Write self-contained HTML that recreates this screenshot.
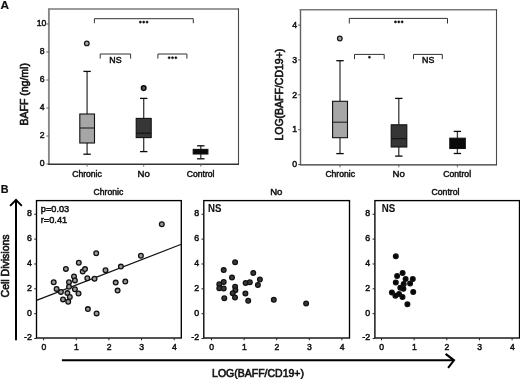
<!DOCTYPE html>
<html><head><meta charset="utf-8"><title>Figure</title>
<style>
html,body{margin:0;padding:0;background:#fff;}
body{width:520px;height:379px;overflow:hidden;}
svg{display:block;font-family:"Liberation Sans", sans-serif;filter:grayscale(1);}
</style></head>
<body>
<svg width="520" height="379" viewBox="0 0 520 379">
<rect width="520" height="379" fill="#fff"/>
<text x="0.5" y="8.5" font-size="11.8" text-anchor="start" font-weight="bold" fill="#111" stroke="#111" stroke-width="0.2">A</text>
<text x="0.8" y="193.2" font-size="10.8" text-anchor="start" font-weight="bold" fill="#111" stroke="#111" stroke-width="0.2">B</text>
<line x1="48.9" y1="9.0" x2="48.9" y2="164.2" stroke="#878787" stroke-width="1.9"/>
<line x1="48.0" y1="9.0" x2="238.5" y2="9.0" stroke="#7a7a7a" stroke-width="1.5"/>
<line x1="238.5" y1="8.3" x2="238.5" y2="164.2" stroke="#4a4a4a" stroke-width="1.1"/>
<line x1="48.0" y1="164.2" x2="239.0" y2="164.2" stroke="#333" stroke-width="1.4"/>
<line x1="46.3" y1="164.0" x2="48.9" y2="164.0" stroke="#555" stroke-width="0.9"/>
<text x="44.7" y="165.8" font-size="8.7" text-anchor="end" font-weight="normal" fill="#111" stroke="#111" stroke-width="0.48">0</text>
<line x1="46.3" y1="136.0" x2="48.9" y2="136.0" stroke="#555" stroke-width="0.9"/>
<text x="44.7" y="137.8" font-size="8.7" text-anchor="end" font-weight="normal" fill="#111" stroke="#111" stroke-width="0.48">2</text>
<line x1="46.3" y1="108.0" x2="48.9" y2="108.0" stroke="#555" stroke-width="0.9"/>
<text x="44.7" y="109.8" font-size="8.7" text-anchor="end" font-weight="normal" fill="#111" stroke="#111" stroke-width="0.48">4</text>
<line x1="46.3" y1="80.0" x2="48.9" y2="80.0" stroke="#555" stroke-width="0.9"/>
<text x="44.7" y="81.8" font-size="8.7" text-anchor="end" font-weight="normal" fill="#111" stroke="#111" stroke-width="0.48">6</text>
<line x1="46.3" y1="52.0" x2="48.9" y2="52.0" stroke="#555" stroke-width="0.9"/>
<text x="44.7" y="53.8" font-size="8.7" text-anchor="end" font-weight="normal" fill="#111" stroke="#111" stroke-width="0.48">8</text>
<line x1="46.3" y1="24.0" x2="48.9" y2="24.0" stroke="#555" stroke-width="0.9"/>
<text x="46.300000000000004" y="25.8" font-size="8.7" text-anchor="end" font-weight="normal" fill="#111" stroke="#111" stroke-width="0.48">10</text>
<text x="27.9" y="94.3" font-size="10.5" text-anchor="middle" font-weight="normal" fill="#111" stroke="#111" stroke-width="0.6" transform="rotate(-90 27.9 94.3)">BAFF (ng/ml)</text>
<line x1="87.1" y1="164.2" x2="87.1" y2="166.6" stroke="#555" stroke-width="0.9"/>
<text x="87.0" y="176.6" font-size="8.6" text-anchor="middle" font-weight="normal" fill="#111" stroke="#111" stroke-width="0.48">Chronic</text>
<line x1="87.1" y1="71.4" x2="87.1" y2="114.0" stroke="#3a3a3a" stroke-width="1.3"/>
<line x1="87.1" y1="143.0" x2="87.1" y2="154.2" stroke="#3a3a3a" stroke-width="1.3"/>
<line x1="83.39999999999999" y1="71.4" x2="90.8" y2="71.4" stroke="#0a0a0a" stroke-width="1.3"/>
<line x1="83.39999999999999" y1="154.2" x2="90.8" y2="154.2" stroke="#0a0a0a" stroke-width="1.3"/>
<rect x="79.8" y="114.0" width="14.700000000000003" height="29.0" fill="#a6a6a6" stroke="#111" stroke-width="1.1"/>
<line x1="79.8" y1="128.0" x2="94.5" y2="128.0" stroke="#222" stroke-width="1.1"/>
<circle cx="86.8" cy="43.4" r="2.3" fill="#a8a8a8" stroke="#1a1a1a" stroke-width="1.3"/>
<line x1="143.7" y1="164.2" x2="143.7" y2="166.6" stroke="#555" stroke-width="0.9"/>
<text x="143.7" y="176.6" font-size="9.6" text-anchor="middle" font-weight="normal" fill="#111" stroke="#111" stroke-width="0.48">No</text>
<line x1="143.7" y1="98.4" x2="143.7" y2="118.4" stroke="#3a3a3a" stroke-width="1.3"/>
<line x1="143.7" y1="137.6" x2="143.7" y2="151.6" stroke="#3a3a3a" stroke-width="1.3"/>
<line x1="140.0" y1="98.4" x2="147.39999999999998" y2="98.4" stroke="#0a0a0a" stroke-width="1.3"/>
<line x1="140.0" y1="151.6" x2="147.39999999999998" y2="151.6" stroke="#0a0a0a" stroke-width="1.3"/>
<rect x="136.2" y="118.4" width="15.0" height="19.19999999999999" fill="#363636" stroke="#111" stroke-width="1.1"/>
<line x1="136.2" y1="133.2" x2="151.2" y2="133.2" stroke="#111" stroke-width="1.1"/>
<circle cx="143.7" cy="88.1" r="2.3" fill="#5a5a5a" stroke="#0a0a0a" stroke-width="1.5"/>
<line x1="200.8" y1="164.2" x2="200.8" y2="166.6" stroke="#555" stroke-width="0.9"/>
<text x="200.6" y="176.6" font-size="8.6" text-anchor="middle" font-weight="normal" fill="#111" stroke="#111" stroke-width="0.48">Control</text>
<line x1="200.8" y1="145.8" x2="200.8" y2="149.4" stroke="#3a3a3a" stroke-width="1.3"/>
<line x1="200.8" y1="154.0" x2="200.8" y2="158.8" stroke="#3a3a3a" stroke-width="1.3"/>
<line x1="197.10000000000002" y1="145.8" x2="204.5" y2="145.8" stroke="#0a0a0a" stroke-width="1.3"/>
<line x1="197.10000000000002" y1="158.8" x2="204.5" y2="158.8" stroke="#0a0a0a" stroke-width="1.3"/>
<rect x="193.2" y="149.4" width="14.700000000000017" height="4.599999999999994" fill="#0a0a0a" stroke="#111" stroke-width="1.1"/>
<path d="M94.4 23.2 V18.7 H193.3 V23.2" fill="none" stroke="#333" stroke-width="1"/>
<circle cx="140.35" cy="22.1" r="1.05" fill="#111" stroke="#111" stroke-width="0.6"/>
<circle cx="143.7" cy="22.1" r="1.05" fill="#111" stroke="#111" stroke-width="0.6"/>
<circle cx="147.04999999999998" cy="22.1" r="1.05" fill="#111" stroke="#111" stroke-width="0.6"/>
<path d="M100.2 58.6 V54.0 H130.6 V58.6" fill="none" stroke="#333" stroke-width="1"/>
<text x="115.4" y="62.5" font-size="8.8" text-anchor="middle" font-weight="normal" fill="#111" stroke="#111" stroke-width="0.48">NS</text>
<path d="M157.9 58.6 V54.0 H186.9 V58.6" fill="none" stroke="#333" stroke-width="1"/>
<circle cx="169.15" cy="57.7" r="1.05" fill="#111" stroke="#111" stroke-width="0.6"/>
<circle cx="172.5" cy="57.7" r="1.05" fill="#111" stroke="#111" stroke-width="0.6"/>
<circle cx="175.85" cy="57.7" r="1.05" fill="#111" stroke="#111" stroke-width="0.6"/>
<line x1="300.5" y1="9.8" x2="300.5" y2="164.9" stroke="#606060" stroke-width="1.4"/>
<line x1="299.6" y1="9.8" x2="496.5" y2="9.8" stroke="#7a7a7a" stroke-width="1.5"/>
<line x1="496.5" y1="9.100000000000001" x2="496.5" y2="164.9" stroke="#4a4a4a" stroke-width="1.1"/>
<line x1="299.6" y1="164.9" x2="497.0" y2="164.9" stroke="#333" stroke-width="1.4"/>
<line x1="297.9" y1="164.5" x2="300.5" y2="164.5" stroke="#555" stroke-width="0.9"/>
<text x="297.0" y="167.2" font-size="8.7" text-anchor="end" font-weight="normal" fill="#111" stroke="#111" stroke-width="0.48">0</text>
<line x1="297.9" y1="129.65" x2="300.5" y2="129.65" stroke="#555" stroke-width="0.9"/>
<text x="297.0" y="132.35" font-size="8.7" text-anchor="end" font-weight="normal" fill="#111" stroke="#111" stroke-width="0.48">1</text>
<line x1="297.9" y1="94.8" x2="300.5" y2="94.8" stroke="#555" stroke-width="0.9"/>
<text x="297.0" y="97.5" font-size="8.7" text-anchor="end" font-weight="normal" fill="#111" stroke="#111" stroke-width="0.48">2</text>
<line x1="297.9" y1="59.94999999999999" x2="300.5" y2="59.94999999999999" stroke="#555" stroke-width="0.9"/>
<text x="297.0" y="62.64999999999999" font-size="8.7" text-anchor="end" font-weight="normal" fill="#111" stroke="#111" stroke-width="0.48">3</text>
<line x1="297.9" y1="25.099999999999994" x2="300.5" y2="25.099999999999994" stroke="#555" stroke-width="0.9"/>
<text x="297.0" y="27.799999999999994" font-size="8.7" text-anchor="end" font-weight="normal" fill="#111" stroke="#111" stroke-width="0.48">4</text>
<text x="283.4" y="94.6" font-size="10.5" text-anchor="middle" font-weight="normal" fill="#111" stroke="#111" stroke-width="0.6" transform="rotate(-90 283.4 94.6)">LOG(BAFF/CD19+)</text>
<line x1="340.0" y1="164.9" x2="340.0" y2="167.3" stroke="#555" stroke-width="0.9"/>
<text x="340.2" y="176.6" font-size="8.6" text-anchor="middle" font-weight="normal" fill="#111" stroke="#111" stroke-width="0.48">Chronic</text>
<line x1="340.0" y1="60.7" x2="340.0" y2="101.3" stroke="#3a3a3a" stroke-width="1.3"/>
<line x1="340.0" y1="137.7" x2="340.0" y2="153.6" stroke="#3a3a3a" stroke-width="1.3"/>
<line x1="336.3" y1="60.7" x2="343.7" y2="60.7" stroke="#0a0a0a" stroke-width="1.3"/>
<line x1="336.3" y1="153.6" x2="343.7" y2="153.6" stroke="#0a0a0a" stroke-width="1.3"/>
<rect x="332.6" y="101.3" width="14.899999999999977" height="36.39999999999999" fill="#a6a6a6" stroke="#111" stroke-width="1.1"/>
<line x1="332.6" y1="122.2" x2="347.5" y2="122.2" stroke="#222" stroke-width="1.1"/>
<circle cx="339.8" cy="38.5" r="2.3" fill="#a8a8a8" stroke="#1a1a1a" stroke-width="1.3"/>
<line x1="398.8" y1="164.9" x2="398.8" y2="167.3" stroke="#555" stroke-width="0.9"/>
<text x="398.6" y="176.6" font-size="9.6" text-anchor="middle" font-weight="normal" fill="#111" stroke="#111" stroke-width="0.48">No</text>
<line x1="398.8" y1="98.4" x2="398.8" y2="124.8" stroke="#3a3a3a" stroke-width="1.3"/>
<line x1="398.8" y1="147.0" x2="398.8" y2="156.1" stroke="#3a3a3a" stroke-width="1.3"/>
<line x1="395.1" y1="98.4" x2="402.5" y2="98.4" stroke="#0a0a0a" stroke-width="1.3"/>
<line x1="395.1" y1="156.1" x2="402.5" y2="156.1" stroke="#0a0a0a" stroke-width="1.3"/>
<rect x="391.2" y="124.8" width="15.600000000000023" height="22.200000000000003" fill="#363636" stroke="#111" stroke-width="1.1"/>
<line x1="391.2" y1="138.7" x2="406.8" y2="138.7" stroke="#111" stroke-width="1.1"/>
<line x1="457.4" y1="164.9" x2="457.4" y2="167.3" stroke="#555" stroke-width="0.9"/>
<text x="457.2" y="176.6" font-size="8.6" text-anchor="middle" font-weight="normal" fill="#111" stroke="#111" stroke-width="0.48">Control</text>
<line x1="457.4" y1="131.4" x2="457.4" y2="138.2" stroke="#3a3a3a" stroke-width="1.3"/>
<line x1="457.4" y1="148.5" x2="457.4" y2="153.5" stroke="#3a3a3a" stroke-width="1.3"/>
<line x1="453.7" y1="131.4" x2="461.09999999999997" y2="131.4" stroke="#0a0a0a" stroke-width="1.3"/>
<line x1="453.7" y1="153.5" x2="461.09999999999997" y2="153.5" stroke="#0a0a0a" stroke-width="1.3"/>
<rect x="449.8" y="138.2" width="15.5" height="10.300000000000011" fill="#0a0a0a" stroke="#111" stroke-width="1.1"/>
<path d="M349.3 23.5 V18.4 H447.5 V23.5" fill="none" stroke="#333" stroke-width="1"/>
<circle cx="395.45" cy="21.9" r="1.05" fill="#111" stroke="#111" stroke-width="0.6"/>
<circle cx="398.8" cy="21.9" r="1.05" fill="#111" stroke="#111" stroke-width="0.6"/>
<circle cx="402.15000000000003" cy="21.9" r="1.05" fill="#111" stroke="#111" stroke-width="0.6"/>
<path d="M354.5 59.1 V54.4 H384.2 V59.1" fill="none" stroke="#333" stroke-width="1"/>
<circle cx="369.4" cy="57.2" r="1.05" fill="#111" stroke="#111" stroke-width="0.6"/>
<path d="M413.5 59.1 V54.4 H442.3 V59.1" fill="none" stroke="#333" stroke-width="1"/>
<text x="428.2" y="63.0" font-size="8.8" text-anchor="middle" font-weight="normal" fill="#111" stroke="#111" stroke-width="0.48">NS</text>
<rect x="36.5" y="200.6" width="144.8" height="137.4" fill="none" stroke="#000" stroke-width="1.35"/>
<text x="108.4" y="194.6" font-size="8.6" text-anchor="middle" font-weight="normal" fill="#111" stroke="#111" stroke-width="0.48">Chronic</text>
<line x1="34.2" y1="214.26" x2="36.5" y2="214.26" stroke="#222" stroke-width="1.0"/>
<text x="31.8" y="216.16" font-size="8.8" text-anchor="end" font-weight="normal" fill="#111" stroke="#111" stroke-width="0.48">8</text>
<line x1="34.2" y1="239.12" x2="36.5" y2="239.12" stroke="#222" stroke-width="1.0"/>
<text x="31.8" y="241.02" font-size="8.8" text-anchor="end" font-weight="normal" fill="#111" stroke="#111" stroke-width="0.48">6</text>
<line x1="34.2" y1="263.98" x2="36.5" y2="263.98" stroke="#222" stroke-width="1.0"/>
<text x="31.8" y="265.88" font-size="8.8" text-anchor="end" font-weight="normal" fill="#111" stroke="#111" stroke-width="0.48">4</text>
<line x1="34.2" y1="288.84" x2="36.5" y2="288.84" stroke="#222" stroke-width="1.0"/>
<text x="31.8" y="290.73999999999995" font-size="8.8" text-anchor="end" font-weight="normal" fill="#111" stroke="#111" stroke-width="0.48">2</text>
<line x1="34.2" y1="313.7" x2="36.5" y2="313.7" stroke="#222" stroke-width="1.0"/>
<text x="31.8" y="315.59999999999997" font-size="8.8" text-anchor="end" font-weight="normal" fill="#111" stroke="#111" stroke-width="0.48">0</text>
<line x1="34.2" y1="338.56" x2="36.5" y2="338.56" stroke="#222" stroke-width="1.0"/>
<text x="31.8" y="340.46" font-size="8.8" text-anchor="end" font-weight="normal" fill="#111" stroke="#111" stroke-width="0.48">-2</text>
<line x1="43.6" y1="338.0" x2="43.6" y2="340.3" stroke="#222" stroke-width="1.0"/>
<text x="43.800000000000004" y="349.7" font-size="8.6" text-anchor="middle" font-weight="normal" fill="#111" stroke="#111" stroke-width="0.48">0</text>
<line x1="76.25" y1="338.0" x2="76.25" y2="340.3" stroke="#222" stroke-width="1.0"/>
<text x="76.45" y="349.7" font-size="8.6" text-anchor="middle" font-weight="normal" fill="#111" stroke="#111" stroke-width="0.48">1</text>
<line x1="108.9" y1="338.0" x2="108.9" y2="340.3" stroke="#222" stroke-width="1.0"/>
<text x="109.10000000000001" y="349.7" font-size="8.6" text-anchor="middle" font-weight="normal" fill="#111" stroke="#111" stroke-width="0.48">2</text>
<line x1="141.54999999999998" y1="338.0" x2="141.54999999999998" y2="340.3" stroke="#222" stroke-width="1.0"/>
<text x="141.74999999999997" y="349.7" font-size="8.6" text-anchor="middle" font-weight="normal" fill="#111" stroke="#111" stroke-width="0.48">3</text>
<line x1="174.2" y1="338.0" x2="174.2" y2="340.3" stroke="#222" stroke-width="1.0"/>
<text x="174.39999999999998" y="349.7" font-size="8.6" text-anchor="middle" font-weight="normal" fill="#111" stroke="#111" stroke-width="0.48">4</text>
<text x="40.8" y="212.1" font-size="9.2" text-anchor="start" font-weight="normal" fill="#111" stroke="#111" stroke-width="0.48">p=0.03</text>
<text x="40.8" y="222.7" font-size="9.2" text-anchor="start" font-weight="normal" fill="#111" stroke="#111" stroke-width="0.48">r=0.41</text>
<line x1="36.5" y1="300.4" x2="181.3" y2="244.3" stroke="#111" stroke-width="1.2"/>
<circle cx="53.7" cy="282.2" r="2.35" fill="#9a9a9a" stroke="#111" stroke-width="1.3"/>
<circle cx="56.6" cy="288.9" r="2.35" fill="#9a9a9a" stroke="#111" stroke-width="1.3"/>
<circle cx="60.9" cy="291.9" r="2.35" fill="#9a9a9a" stroke="#111" stroke-width="1.3"/>
<circle cx="63.0" cy="299.4" r="2.35" fill="#9a9a9a" stroke="#111" stroke-width="1.3"/>
<circle cx="65.9" cy="268.9" r="2.35" fill="#9a9a9a" stroke="#111" stroke-width="1.3"/>
<circle cx="67.4" cy="293.1" r="2.35" fill="#9a9a9a" stroke="#111" stroke-width="1.3"/>
<circle cx="68.2" cy="301.7" r="2.35" fill="#9a9a9a" stroke="#111" stroke-width="1.3"/>
<circle cx="69.0" cy="282.3" r="2.35" fill="#9a9a9a" stroke="#111" stroke-width="1.3"/>
<circle cx="69.0" cy="286.8" r="2.35" fill="#9a9a9a" stroke="#111" stroke-width="1.3"/>
<circle cx="69.8" cy="297.0" r="2.35" fill="#9a9a9a" stroke="#111" stroke-width="1.3"/>
<circle cx="74.0" cy="276.4" r="2.35" fill="#9a9a9a" stroke="#111" stroke-width="1.3"/>
<circle cx="74.9" cy="280.4" r="2.35" fill="#9a9a9a" stroke="#111" stroke-width="1.3"/>
<circle cx="74.9" cy="289.3" r="2.35" fill="#9a9a9a" stroke="#111" stroke-width="1.3"/>
<circle cx="78.5" cy="293.5" r="2.35" fill="#9a9a9a" stroke="#111" stroke-width="1.3"/>
<circle cx="78.8" cy="262.8" r="2.35" fill="#9a9a9a" stroke="#111" stroke-width="1.3"/>
<circle cx="82.7" cy="271.6" r="2.35" fill="#9a9a9a" stroke="#111" stroke-width="1.3"/>
<circle cx="85.0" cy="269.1" r="2.35" fill="#9a9a9a" stroke="#111" stroke-width="1.3"/>
<circle cx="87.3" cy="278.2" r="2.35" fill="#9a9a9a" stroke="#111" stroke-width="1.3"/>
<circle cx="94.5" cy="278.8" r="2.35" fill="#9a9a9a" stroke="#111" stroke-width="1.3"/>
<circle cx="96.2" cy="253.2" r="2.35" fill="#9a9a9a" stroke="#111" stroke-width="1.3"/>
<circle cx="105.5" cy="270.3" r="2.35" fill="#9a9a9a" stroke="#111" stroke-width="1.3"/>
<circle cx="115.7" cy="282.6" r="2.35" fill="#9a9a9a" stroke="#111" stroke-width="1.3"/>
<circle cx="117.6" cy="290.6" r="2.35" fill="#9a9a9a" stroke="#111" stroke-width="1.3"/>
<circle cx="125.3" cy="281.6" r="2.35" fill="#9a9a9a" stroke="#111" stroke-width="1.3"/>
<circle cx="120.9" cy="266.6" r="2.35" fill="#9a9a9a" stroke="#111" stroke-width="1.3"/>
<circle cx="140.9" cy="255.8" r="2.35" fill="#9a9a9a" stroke="#111" stroke-width="1.3"/>
<circle cx="161.8" cy="224.2" r="2.35" fill="#9a9a9a" stroke="#111" stroke-width="1.3"/>
<circle cx="87.9" cy="309.1" r="2.35" fill="#9a9a9a" stroke="#111" stroke-width="1.3"/>
<circle cx="96.6" cy="313.4" r="2.35" fill="#9a9a9a" stroke="#111" stroke-width="1.3"/>
<rect x="203.8" y="200.6" width="145.7" height="137.4" fill="none" stroke="#000" stroke-width="1.35"/>
<text x="276.3" y="194.6" font-size="9.6" text-anchor="middle" font-weight="normal" fill="#111" stroke="#111" stroke-width="0.48">No</text>
<line x1="201.5" y1="214.26" x2="203.8" y2="214.26" stroke="#222" stroke-width="1.0"/>
<text x="199.10000000000002" y="216.16" font-size="8.8" text-anchor="end" font-weight="normal" fill="#111" stroke="#111" stroke-width="0.48">8</text>
<line x1="201.5" y1="239.12" x2="203.8" y2="239.12" stroke="#222" stroke-width="1.0"/>
<text x="199.10000000000002" y="241.02" font-size="8.8" text-anchor="end" font-weight="normal" fill="#111" stroke="#111" stroke-width="0.48">6</text>
<line x1="201.5" y1="263.98" x2="203.8" y2="263.98" stroke="#222" stroke-width="1.0"/>
<text x="199.10000000000002" y="265.88" font-size="8.8" text-anchor="end" font-weight="normal" fill="#111" stroke="#111" stroke-width="0.48">4</text>
<line x1="201.5" y1="288.84" x2="203.8" y2="288.84" stroke="#222" stroke-width="1.0"/>
<text x="199.10000000000002" y="290.73999999999995" font-size="8.8" text-anchor="end" font-weight="normal" fill="#111" stroke="#111" stroke-width="0.48">2</text>
<line x1="201.5" y1="313.7" x2="203.8" y2="313.7" stroke="#222" stroke-width="1.0"/>
<text x="199.10000000000002" y="315.59999999999997" font-size="8.8" text-anchor="end" font-weight="normal" fill="#111" stroke="#111" stroke-width="0.48">0</text>
<line x1="201.5" y1="338.56" x2="203.8" y2="338.56" stroke="#222" stroke-width="1.0"/>
<text x="199.10000000000002" y="340.46" font-size="8.8" text-anchor="end" font-weight="normal" fill="#111" stroke="#111" stroke-width="0.48">-2</text>
<line x1="211.5" y1="338.0" x2="211.5" y2="340.3" stroke="#222" stroke-width="1.0"/>
<text x="211.7" y="349.7" font-size="8.6" text-anchor="middle" font-weight="normal" fill="#111" stroke="#111" stroke-width="0.48">0</text>
<line x1="244.1" y1="338.0" x2="244.1" y2="340.3" stroke="#222" stroke-width="1.0"/>
<text x="244.29999999999998" y="349.7" font-size="8.6" text-anchor="middle" font-weight="normal" fill="#111" stroke="#111" stroke-width="0.48">1</text>
<line x1="276.7" y1="338.0" x2="276.7" y2="340.3" stroke="#222" stroke-width="1.0"/>
<text x="276.9" y="349.7" font-size="8.6" text-anchor="middle" font-weight="normal" fill="#111" stroke="#111" stroke-width="0.48">2</text>
<line x1="309.3" y1="338.0" x2="309.3" y2="340.3" stroke="#222" stroke-width="1.0"/>
<text x="309.5" y="349.7" font-size="8.6" text-anchor="middle" font-weight="normal" fill="#111" stroke="#111" stroke-width="0.48">3</text>
<line x1="341.9" y1="338.0" x2="341.9" y2="340.3" stroke="#222" stroke-width="1.0"/>
<text x="342.09999999999997" y="349.7" font-size="8.6" text-anchor="middle" font-weight="normal" fill="#111" stroke="#111" stroke-width="0.48">4</text>
<circle cx="223.7" cy="270.1" r="2.35" fill="#383838" stroke="#111" stroke-width="1.3"/>
<circle cx="235.1" cy="262.3" r="2.35" fill="#383838" stroke="#111" stroke-width="1.3"/>
<circle cx="232.0" cy="277.5" r="2.35" fill="#383838" stroke="#111" stroke-width="1.3"/>
<circle cx="223.7" cy="281.9" r="2.35" fill="#383838" stroke="#111" stroke-width="1.3"/>
<circle cx="219.3" cy="284.3" r="2.35" fill="#383838" stroke="#111" stroke-width="1.3"/>
<circle cx="219.3" cy="288.2" r="2.35" fill="#383838" stroke="#111" stroke-width="1.3"/>
<circle cx="223.7" cy="288.5" r="2.35" fill="#383838" stroke="#111" stroke-width="1.3"/>
<circle cx="235.1" cy="286.8" r="2.35" fill="#383838" stroke="#111" stroke-width="1.3"/>
<circle cx="235.4" cy="290.2" r="2.35" fill="#383838" stroke="#111" stroke-width="1.3"/>
<circle cx="232.7" cy="293.2" r="2.35" fill="#383838" stroke="#111" stroke-width="1.3"/>
<circle cx="235.0" cy="297.5" r="2.35" fill="#383838" stroke="#111" stroke-width="1.3"/>
<circle cx="224.3" cy="298.3" r="2.35" fill="#383838" stroke="#111" stroke-width="1.3"/>
<circle cx="253.3" cy="272.9" r="2.35" fill="#383838" stroke="#111" stroke-width="1.3"/>
<circle cx="245.6" cy="283.0" r="2.35" fill="#383838" stroke="#111" stroke-width="1.3"/>
<circle cx="249.8" cy="282.3" r="2.35" fill="#383838" stroke="#111" stroke-width="1.3"/>
<circle cx="259.9" cy="279.5" r="2.35" fill="#383838" stroke="#111" stroke-width="1.3"/>
<circle cx="257.9" cy="285.1" r="2.35" fill="#383838" stroke="#111" stroke-width="1.3"/>
<circle cx="245.4" cy="293.5" r="2.35" fill="#383838" stroke="#111" stroke-width="1.3"/>
<circle cx="248.2" cy="300.8" r="2.35" fill="#383838" stroke="#111" stroke-width="1.3"/>
<circle cx="273.8" cy="299.8" r="2.35" fill="#383838" stroke="#111" stroke-width="1.3"/>
<circle cx="306.1" cy="303.5" r="2.35" fill="#383838" stroke="#111" stroke-width="1.3"/>
<text x="0" y="0" font-size="10.4" text-anchor="start" font-weight="bold" fill="#111" stroke="#111" stroke-width="0.1" transform="translate(207.9 212.2) scale(0.93 1)">NS</text>
<rect x="374.9" y="200.6" width="144.60000000000002" height="137.4" fill="none" stroke="#000" stroke-width="1.35"/>
<text x="445.5" y="194.6" font-size="8.7" text-anchor="middle" font-weight="normal" fill="#111" stroke="#111" stroke-width="0.48">Control</text>
<line x1="372.59999999999997" y1="214.26" x2="374.9" y2="214.26" stroke="#222" stroke-width="1.0"/>
<text x="370.2" y="216.16" font-size="8.8" text-anchor="end" font-weight="normal" fill="#111" stroke="#111" stroke-width="0.48">8</text>
<line x1="372.59999999999997" y1="239.12" x2="374.9" y2="239.12" stroke="#222" stroke-width="1.0"/>
<text x="370.2" y="241.02" font-size="8.8" text-anchor="end" font-weight="normal" fill="#111" stroke="#111" stroke-width="0.48">6</text>
<line x1="372.59999999999997" y1="263.98" x2="374.9" y2="263.98" stroke="#222" stroke-width="1.0"/>
<text x="370.2" y="265.88" font-size="8.8" text-anchor="end" font-weight="normal" fill="#111" stroke="#111" stroke-width="0.48">4</text>
<line x1="372.59999999999997" y1="288.84" x2="374.9" y2="288.84" stroke="#222" stroke-width="1.0"/>
<text x="370.2" y="290.73999999999995" font-size="8.8" text-anchor="end" font-weight="normal" fill="#111" stroke="#111" stroke-width="0.48">2</text>
<line x1="372.59999999999997" y1="313.7" x2="374.9" y2="313.7" stroke="#222" stroke-width="1.0"/>
<text x="370.2" y="315.59999999999997" font-size="8.8" text-anchor="end" font-weight="normal" fill="#111" stroke="#111" stroke-width="0.48">0</text>
<line x1="372.59999999999997" y1="338.56" x2="374.9" y2="338.56" stroke="#222" stroke-width="1.0"/>
<text x="370.2" y="340.46" font-size="8.8" text-anchor="end" font-weight="normal" fill="#111" stroke="#111" stroke-width="0.48">-2</text>
<line x1="381.5" y1="338.0" x2="381.5" y2="340.3" stroke="#222" stroke-width="1.0"/>
<text x="381.7" y="349.7" font-size="8.6" text-anchor="middle" font-weight="normal" fill="#111" stroke="#111" stroke-width="0.48">0</text>
<line x1="414.15" y1="338.0" x2="414.15" y2="340.3" stroke="#222" stroke-width="1.0"/>
<text x="414.34999999999997" y="349.7" font-size="8.6" text-anchor="middle" font-weight="normal" fill="#111" stroke="#111" stroke-width="0.48">1</text>
<line x1="446.8" y1="338.0" x2="446.8" y2="340.3" stroke="#222" stroke-width="1.0"/>
<text x="447.0" y="349.7" font-size="8.6" text-anchor="middle" font-weight="normal" fill="#111" stroke="#111" stroke-width="0.48">2</text>
<line x1="479.45" y1="338.0" x2="479.45" y2="340.3" stroke="#222" stroke-width="1.0"/>
<text x="479.65" y="349.7" font-size="8.6" text-anchor="middle" font-weight="normal" fill="#111" stroke="#111" stroke-width="0.48">3</text>
<line x1="512.1" y1="338.0" x2="512.1" y2="340.3" stroke="#222" stroke-width="1.0"/>
<text x="512.3000000000001" y="349.7" font-size="8.6" text-anchor="middle" font-weight="normal" fill="#111" stroke="#111" stroke-width="0.48">4</text>
<circle cx="395.8" cy="256.3" r="2.35" fill="#050505" stroke="#111" stroke-width="1.3"/>
<circle cx="402.6" cy="272.9" r="2.35" fill="#050505" stroke="#111" stroke-width="1.3"/>
<circle cx="397.1" cy="276.1" r="2.35" fill="#050505" stroke="#111" stroke-width="1.3"/>
<circle cx="395.8" cy="282.4" r="2.35" fill="#050505" stroke="#111" stroke-width="1.3"/>
<circle cx="405.6" cy="279.0" r="2.35" fill="#050505" stroke="#111" stroke-width="1.3"/>
<circle cx="412.8" cy="279.0" r="2.35" fill="#050505" stroke="#111" stroke-width="1.3"/>
<circle cx="410.1" cy="283.5" r="2.35" fill="#050505" stroke="#111" stroke-width="1.3"/>
<circle cx="403.7" cy="284.0" r="2.35" fill="#050505" stroke="#111" stroke-width="1.3"/>
<circle cx="400.3" cy="287.7" r="2.35" fill="#050505" stroke="#111" stroke-width="1.3"/>
<circle cx="403.4" cy="288.8" r="2.35" fill="#050505" stroke="#111" stroke-width="1.3"/>
<circle cx="413.2" cy="291.9" r="2.35" fill="#050505" stroke="#111" stroke-width="1.3"/>
<circle cx="391.9" cy="292.4" r="2.35" fill="#050505" stroke="#111" stroke-width="1.3"/>
<circle cx="395.4" cy="295.7" r="2.35" fill="#050505" stroke="#111" stroke-width="1.3"/>
<circle cx="399.0" cy="294.0" r="2.35" fill="#050505" stroke="#111" stroke-width="1.3"/>
<circle cx="402.5" cy="297.1" r="2.35" fill="#050505" stroke="#111" stroke-width="1.3"/>
<circle cx="407.4" cy="304.3" r="2.35" fill="#050505" stroke="#111" stroke-width="1.3"/>
<text x="0" y="0" font-size="10.4" text-anchor="start" font-weight="bold" fill="#111" stroke="#111" stroke-width="0.1" transform="translate(381.7 211.5) scale(0.93 1)">NS</text>
<path d="M16.0 340.2 V200.5" stroke="#000" stroke-width="2" fill="none"/>
<path d="M10.1 205.9 L16.0 199.9 L21.8 205.9" stroke="#000" stroke-width="2" fill="none" stroke-linejoin="miter"/>
<path d="M61.9 360.35 H453.6" stroke="#000" stroke-width="2" fill="none"/>
<path d="M445.6 353.8 L454.0 360.3 L448.1 367.8" stroke="#000" stroke-width="2.1" fill="none"/>
<text x="9.0" y="265.9" font-size="10.5" text-anchor="middle" font-weight="normal" fill="#111" stroke="#111" stroke-width="0.6" transform="rotate(-90 9.0 265.9)">Cell Divisions</text>
<text x="258.0" y="377.0" font-size="10.5" text-anchor="middle" font-weight="normal" fill="#111" stroke="#111" stroke-width="0.6">LOG(BAFF/CD19+)</text>
</svg>
</body></html>
